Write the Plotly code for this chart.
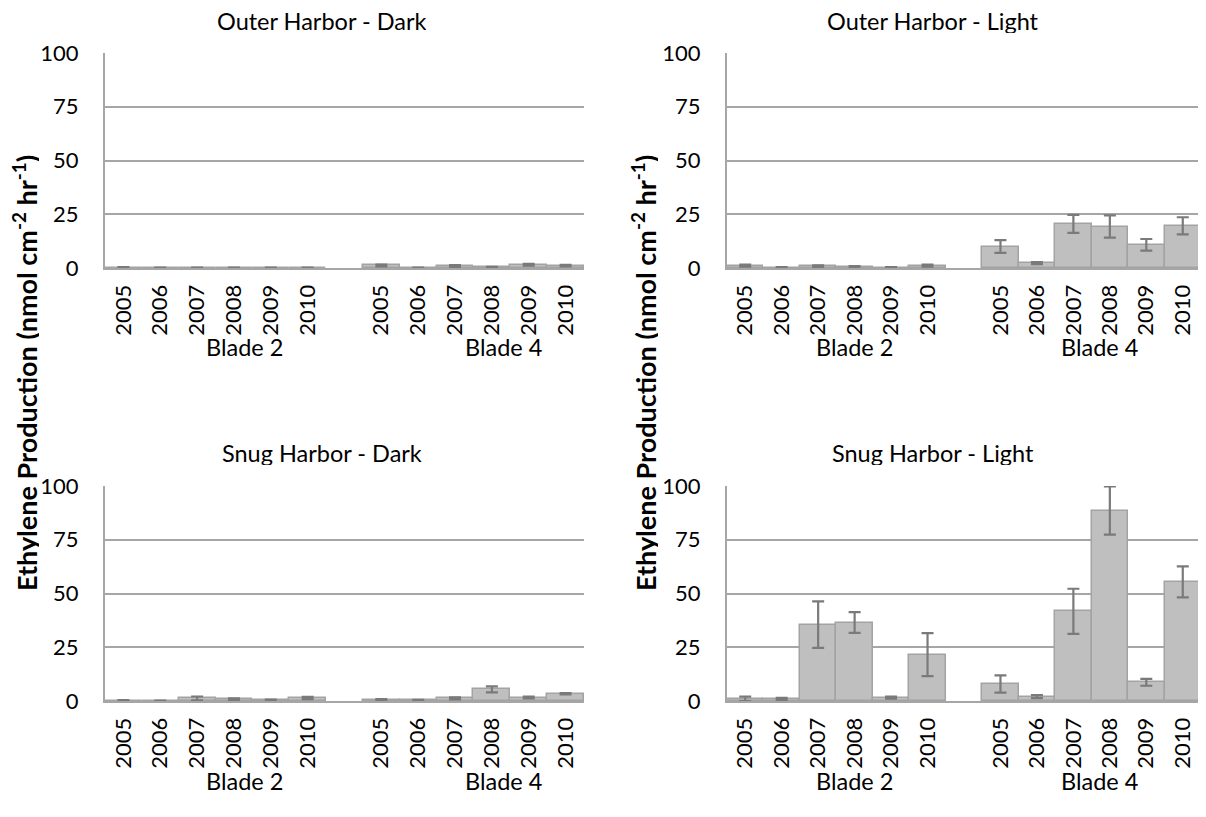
import plotly.graph_objects as go

years = ["2005", "2006", "2007", "2008", "2009", "2010"]
blades = ["Blade 2", "Blade 4"]
panel_titles = ["Outer Harbor - Dark", "Outer Harbor - Light",
                "Snug Harbor - Dark", "Snug Harbor - Light"]
y_ticks = [0, 25, 50, 75, 100]

# values: Blade 2 (2005-2010) followed by Blade 4 (2005-2010)
outer_dark = [0.2, 0.1, 0.1, 0.1, 0.1, 0.1, 1.2, 0.1, 0.9, 0.3, 1.5, 1.1]
outer_dark_err = [0.2, 0.1, 0.1, 0.1, 0.1, 0.1, 0.4, 0.1, 0.4, 0.2, 0.4, 0.4]
outer_light = [1.1, 0.2, 0.8, 0.5, 0.2, 1.1, 10.0, 2.3, 20.5, 19.3, 10.8, 19.6]
outer_light_err = [0.5, 0.2, 0.4, 0.4, 0.2, 0.5, 3.0, 0.5, 4.2, 5.2, 2.7, 4.0]
snug_dark = [0.2, 0.1, 1.2, 0.8, 0.4, 1.4, 0.6, 0.3, 1.2, 5.4, 1.6, 3.4]
snug_dark_err = [0.2, 0.1, 0.9, 0.4, 0.3, 0.5, 0.3, 0.2, 0.5, 1.4, 0.4, 0.3]
snug_light = [1.0, 1.0, 35.5, 36.5, 1.6, 21.6, 7.9, 2.0, 41.7, 88.6, 8.7, 55.4]
snug_light_err = [1.0, 0.5, 10.8, 4.8, 0.5, 10.0, 4.0, 0.7, 10.5, 11.2, 1.6, 7.2]

series = [(outer_dark, outer_dark_err), (outer_light, outer_light_err),
          (snug_dark, snug_dark_err), (snug_light, snug_light_err)]

# page body has an 8px margin, so the figure is sized to fill the rest
OFF = 8
W, H = 1206 - OFF, 817 - OFF
FONT = "Lato, Open Sans, sans-serif"
GRID = "#a6a6a6"

# slot positions: 6 bars, one empty slot, 6 bars
xpos = [0, 1, 2, 3, 4, 5, 7, 8, 9, 10, 11, 12]
ticktext = years + years

def px(x):
    return (x - OFF) / W

def py(y):
    return 1 - (y - OFF) / H

# panel pixel boxes in screen pixels: (left, right, top, bottom)
boxes = [(105, 584, 53, 268), (727, 1201, 53, 268),
         (105, 584, 486, 701), (727, 1201, 486, 701)]

fig = go.Figure()
for i, ((vals, errs), box) in enumerate(zip(series, boxes)):
    n = "" if i == 0 else str(i + 1)
    fig.add_trace(go.Bar(
        x=xpos, y=vals, width=1,
        marker=dict(color="#bfbfbf", line=dict(color="#a3a3a3", width=1.5)),
        error_y=dict(type="data", array=errs, visible=True,
                     color="#7a7a7a", thickness=2.2, width=6),
        xaxis="x" + n, yaxis="y" + n, showlegend=False,
    ))
    l, r, t, b = box
    fig.layout["xaxis" + n] = dict(
        domain=[px(l), px(r)], anchor="y" + n, range=[-0.5, 12.5],
        tickvals=xpos, ticktext=ticktext, tickangle=-90,
        showgrid=False, zeroline=False, showline=True, automargin=False,
        linecolor=GRID, linewidth=2, ticks="", ticklabelstandoff=6,
        tickfont=dict(family=FONT, size=22, color="#000"),
    )
    fig.layout["yaxis" + n] = dict(
        domain=[py(b), py(t)], anchor="x" + n, range=[0, 100],
        tickvals=y_ticks, showgrid=True, gridcolor=GRID, gridwidth=2,
        zeroline=False, showline=True, linecolor=GRID, linewidth=2,
        ticks="", ticklabelstandoff=20, automargin=False,
        tickfont=dict(family=FONT, size=22, color="#000"),
    )

annotations = []
title_pos = [(322, 21), (933, 21), (322, 453), (933, 453)]
for txt, (x, y) in zip(panel_titles, title_pos):
    annotations.append(dict(text=txt, x=px(x), y=py(y), xref="paper", yref="paper",
                            showarrow=False, xanchor="center", yanchor="middle",
                            height=24, valign="middle",
                            font=dict(family=FONT, size=23.5, color="#000")))

blade_pos = [((245, 347), (503, 347)), ((855, 347), (1099, 347)),
             ((245, 781), (503, 781)), ((855, 781), (1099, 781))]
for pair in blade_pos:
    for name, (x, y) in zip(blades, pair):
        annotations.append(dict(text=name, x=px(x), y=py(y), xref="paper", yref="paper",
                                showarrow=False, xanchor="center", yanchor="middle",
                                font=dict(family=FONT, size=23.5, color="#000")))

ytitle = "<b>Ethylene Production (nmol cm<sup>-2</sup> hr<sup>-1</sup>)</b>"
for x in (25, 644):
    annotations.append(dict(text=ytitle, x=px(x), y=py(373), xref="paper", yref="paper",
                            showarrow=False, textangle=-90, xanchor="center", yanchor="middle",
                            height=28, valign="middle",
                            font=dict(family=FONT, size=27, color="#000")))

fig.update_layout(
    width=W, height=H, margin=dict(l=0, r=0, t=0, b=0, autoexpand=False),
    paper_bgcolor="white", plot_bgcolor="white",
    bargap=0, annotations=annotations,
)

fig.write_html("out.html")
